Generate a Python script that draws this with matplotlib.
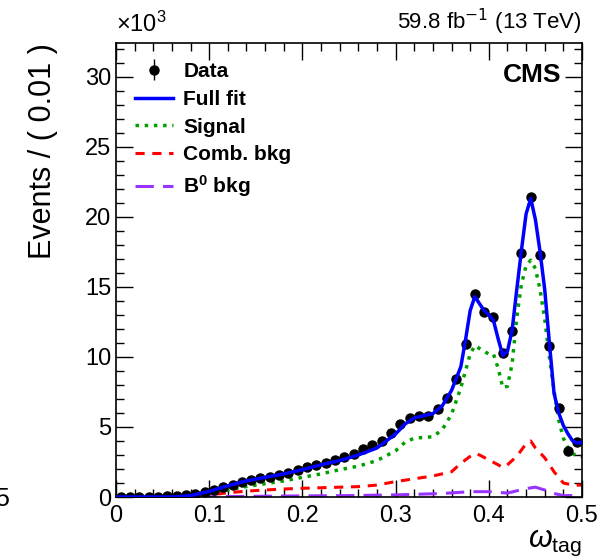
import matplotlib
matplotlib.use("Agg")
import matplotlib.pyplot as plt
from matplotlib.ticker import MultipleLocator
import numpy as np

plt.rcParams['font.family'] = ['Liberation Sans', 'DejaVu Sans']
plt.rcParams['mathtext.fontset'] = 'custom'
plt.rcParams['mathtext.rm'] = 'Liberation Sans'
plt.rcParams['mathtext.bf'] = 'Liberation Sans:bold'
plt.rcParams['mathtext.it'] = 'Liberation Sans:italic'

# data histogram (x 10^3 events per 0.01)
bin_centers = [0.005, 0.015, 0.025, 0.035, 0.045, 0.055, 0.065, 0.075, 0.085, 0.095,
               0.105, 0.115, 0.125, 0.135, 0.145, 0.155, 0.165, 0.175, 0.185, 0.195,
               0.205, 0.215, 0.225, 0.235, 0.245, 0.255, 0.265, 0.275, 0.285, 0.295,
               0.305, 0.315, 0.325, 0.335, 0.345, 0.355, 0.365, 0.375, 0.385, 0.395,
               0.405, 0.415, 0.425, 0.435, 0.445, 0.455, 0.465, 0.475, 0.485, 0.495]
data = [0.02, 0.02, 0.02, 0.02, 0.03, 0.05, 0.08, 0.15, 0.24, 0.36,
        0.52, 0.71, 0.88, 1.07, 1.20, 1.33, 1.41, 1.57, 1.74, 1.93,
        2.12, 2.29, 2.45, 2.64, 2.83, 3.10, 3.40, 3.68, 4.00, 4.60,
        5.19, 5.67, 5.79, 5.81, 6.26, 7.05, 8.40, 10.93, 14.48, 13.19,
        12.88, 10.26, 11.86, 17.43, 21.40, 17.29, 10.79, 6.38, 3.31, 3.95]

# full fit
fit_x = [0.0, 0.06, 0.08, 0.10, 0.12, 0.14, 0.16, 0.18, 0.20, 0.22, 0.24, 0.26, 0.28,
         0.30, 0.31, 0.32, 0.33, 0.34, 0.35, 0.36, 0.37, 0.375, 0.38, 0.385, 0.39,
         0.395, 0.40, 0.405, 0.41, 0.415, 0.42, 0.425, 0.43, 0.435, 0.44, 0.445,
         0.45, 0.455, 0.46, 0.465, 0.47, 0.475, 0.48, 0.485, 0.49, 0.495, 0.50]
fit_y = [0.0, 0.0, 0.1, 0.4, 0.8, 1.15, 1.4, 1.65, 1.95, 2.3, 2.6, 3.0, 3.5,
         4.5, 5.2, 5.65, 5.8, 5.95, 6.5, 7.6, 9.3, 11.2, 13.3, 14.3, 13.8,
         13.3, 13.0, 12.6, 11.3, 10.1, 10.4, 11.9, 14.8, 17.6, 20.2, 21.3,
         19.8, 17.5, 14.8, 11.0, 7.4, 6.0, 5.1, 4.5, 4.0, 3.85, 3.9]

# signal component
sig_x = [0.0, 0.06, 0.08, 0.10, 0.12, 0.14, 0.16, 0.18, 0.20, 0.22, 0.24, 0.26, 0.28,
         0.30, 0.31, 0.32, 0.33, 0.34, 0.35, 0.36, 0.37, 0.38, 0.385, 0.39, 0.40,
         0.405, 0.41, 0.415, 0.42, 0.425, 0.43, 0.435, 0.44, 0.445, 0.45, 0.455,
         0.46, 0.465, 0.47, 0.475, 0.48, 0.485, 0.49, 0.495, 0.50]
sig_y = [0.0, 0.0, 0.08, 0.25, 0.5, 0.75, 0.95, 1.15, 1.4, 1.65, 1.95, 2.2, 2.6,
         3.3, 3.9, 4.2, 4.25, 4.3, 4.8, 5.9, 7.8, 10.2, 10.8, 10.6, 10.2,
         10.2, 9.2, 7.8, 7.9, 9.5, 12.8, 15.2, 16.5, 16.9, 16.3, 14.8,
         12.7, 10.0, 7.6, 5.5, 4.2, 3.5, 3.1, 2.9, 2.9]

# combinatorial background
comb_x = [0.0, 0.06, 0.08, 0.10, 0.12, 0.14, 0.16, 0.18, 0.20, 0.22, 0.24, 0.26, 0.28,
          0.30, 0.32, 0.34, 0.36, 0.37, 0.38, 0.385, 0.39, 0.40, 0.41, 0.415, 0.42,
          0.43, 0.44, 0.445, 0.45, 0.46, 0.47, 0.48, 0.49, 0.50]
comb_y = [0.0, 0.0, 0.05, 0.15, 0.3, 0.42, 0.5, 0.57, 0.62, 0.66, 0.7, 0.74, 0.85,
          1.1, 1.3, 1.5, 1.8, 2.4, 2.9, 3.1, 3.0, 2.65, 2.3, 2.1, 2.3,
          2.9, 3.8, 4.0, 3.5, 2.8, 1.8, 1.0, 0.85, 0.85]

# B0 background
b0_x = [0.0, 0.08, 0.10, 0.15, 0.20, 0.25, 0.30, 0.35, 0.38, 0.40, 0.42, 0.44, 0.45,
        0.46, 0.47, 0.48, 0.50]
b0_y = [0.0, 0.0, 0.02, 0.05, 0.08, 0.1, 0.15, 0.25, 0.38, 0.38, 0.28, 0.6, 0.7,
        0.5, 0.25, 0.1, 0.1]

x_ticks = [0.0, 0.1, 0.2, 0.3, 0.4, 0.5]
x_tick_labels = ['0', '0.1', '0.2', '0.3', '0.4', '0.5']
y_ticks = [0, 5, 10, 15, 20, 25, 30]
y_tick_labels = ['0', '5', '10', '15', '20', '25', '30']

fig = plt.figure(figsize=(6.01, 5.59), dpi=100)
ax = fig.add_axes([116/601, 62/559, 466/601, 454/559])

err = np.sqrt(np.array(data) * 1000.0) / 1000.0
h_data = ax.errorbar(bin_centers, data, yerr=err, fmt='o', color='black', markersize=6.5,
                     elinewidth=1, capsize=0, zorder=3)
h_fit, = ax.plot(fit_x, fit_y, '-', color='#0000ff', lw=2.5, zorder=4)
h_sig, = ax.plot(sig_x, sig_y, ':', color='#00a000', lw=2.5, zorder=2)
h_comb, = ax.plot(comb_x, comb_y, '--', color='#ff0000', lw=2.2, dashes=(3, 2.5), zorder=2)
h_b0, = ax.plot(b0_x, b0_y, '-', color='#9933ff', lw=2.2, dashes=(6, 3), zorder=2)

ax.set_xlim(0, 0.5)
ax.set_ylim(0, 32.4)
ax.set_xticks(x_ticks)
ax.set_xticklabels(x_tick_labels)
ax.set_yticks(y_ticks)
ax.set_yticklabels(y_tick_labels)
ax.xaxis.set_minor_locator(MultipleLocator(0.02))
ax.yaxis.set_minor_locator(MultipleLocator(1))
ax.tick_params(which='both', direction='in', top=True, right=True, labelsize=17)
ax.tick_params(which='major', length=12, width=1)
ax.tick_params(which='minor', length=6, width=1)
ax.tick_params(axis='x', pad=6)
for sp in ax.spines.values():
    sp.set_linewidth(1.2)

ax.set_ylabel('Events / ( 0.01 )', fontsize=22, loc='top')
ax.yaxis.set_label_coords(-0.125, 1.0)
fig.text(582/601, 1/559, r'$\omega_{\rm tag}$', ha='right', va='bottom', fontsize=22)

fig.text(116/601, 522/559, r'$\times$10$^{3}$', ha='left', va='bottom', fontsize=17)
fig.text(582/601, 522/559, r'59.8 fb$^{\mathsf{-1}}$ (13 TeV)', ha='right', va='bottom',
         fontsize=16)
ax.text(0.955, 0.93, 'CMS', transform=ax.transAxes, ha='right', va='center',
        fontsize=19, fontweight='bold')

ax.legend([h_data, h_fit, h_sig, h_comb, h_b0],
          ['Data', 'Full fit', 'Signal', 'Comb. bkg', r'$\mathbf{B^0}$ bkg'],
          loc='upper left', bbox_to_anchor=(0.01, 0.99), frameon=False,
          prop={'weight': 'bold', 'size': 15}, handlelength=1.8,
          handletextpad=0.5, labelspacing=0.42, borderaxespad=0.3)

# clipped label from neighbouring panel
fig.text(9/601, 48/559, '5', ha='right', va='bottom', fontsize=18)

fig.savefig('out.png', dpi=100)
